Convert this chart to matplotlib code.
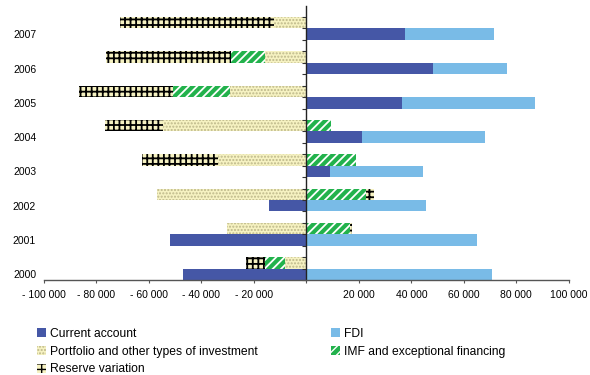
import matplotlib
matplotlib.use('Agg')
import matplotlib.pyplot as plt
from matplotlib.patches import Patch
import numpy as np

plt.rcParams['font.family'] = ['Liberation Sans', 'DejaVu Sans']
plt.rcParams['hatch.linewidth'] = 1.0

years = [2000, 2001, 2002, 2003, 2004, 2005, 2006, 2007]
current_account = [-46900, -51800, -14100, 9100, 21300, 36600, 48400, 37700]
fdi = [70900, 65100, 45700, 35500, 46900, 50600, 28200, 33900]
portfolio = [-8000, -30100, -56800, -33600, -54700, -29200, -15900, -12400]
imf = [-7900, 16500, 22600, 19000, 9500, -21600, -12700, 0]
reserve = [-7300, 900, 3200, -29100, -21900, -35700, -47600, -58800]
xticks = [-100000, -80000, -60000, -40000, -20000, 0, 20000, 40000, 60000, 80000, 100000]

c_ca = '#4557A6'
c_fdi = '#79BBE7'
c_yel = '#F6F2C2'
c_green = '#22B24C'

fig = plt.figure(figsize=(5.9, 3.75), dpi=100)
ax = fig.add_axes([0.0746, 0.2533, 0.8894, 0.7317])

y = np.arange(len(years))
h = 1 / 3

st_ca = dict(color=c_ca, linewidth=0)
st_fdi = dict(color=c_fdi, linewidth=0)
st_port = dict(facecolor=c_yel, edgecolor='#BDB88A', hatch='.....', linewidth=0)
st_imf = dict(facecolor=c_green, edgecolor='white', hatch='////', linewidth=0)
st_res = dict(facecolor=c_yel, edgecolor='black', hatch='+++', linewidth=0)
hatch_lw = {'+++': 1.3, '////': 1.3}


def set_hlw(p, st):
    lw = hatch_lw.get(st.get('hatch'))
    if lw is not None:
        try:
            p.set_hatch_linewidth(lw)
        except AttributeError:
            pass


def stack(ax, series, ypos, styles):
    pos = np.zeros(len(ypos))
    neg = np.zeros(len(ypos))
    for vals, st in zip(series, styles):
        vals = np.array(vals, dtype=float)
        left = np.where(vals >= 0, pos, neg)
        bars = ax.barh(ypos, vals, left=left, height=h, align='edge', **st)
        for b in bars:
            set_hlw(b, st)
        pos += np.where(vals >= 0, vals, 0)
        neg += np.where(vals < 0, vals, 0)


stack(ax, [current_account, fdi], y, [st_ca, st_fdi])
stack(ax, [portfolio, imf, reserve], y + h, [st_port, st_imf, st_res])

ax.set_xlim(-100000, 100000)
ax.set_ylim(0, len(years))

for s in ['top', 'right']:
    ax.spines[s].set_visible(False)
ax.spines['left'].set_position(('data', 0))
ax.spines['left'].set_color('#222222')
ax.spines['left'].set_linewidth(1.0)
ax.spines['bottom'].set_color('#555555')
ax.spines['bottom'].set_linewidth(1.0)

ax.set_yticks(np.arange(0, len(years) - 1 + 2 * h + 0.01, h))
ax.set_yticklabels([])
ax.tick_params(axis='y', direction='out', length=3, color='#333333')

labels = []
for v in xticks:
    if v < 0:
        labels.append('- ' + f'{-v:,}'.replace(',', ' '))
    elif v == 0:
        labels.append('')
    else:
        labels.append(f'{v:,}'.replace(',', ' '))
ax.set_xticks(xticks)
ax.set_xticklabels(labels, fontsize=7.5)
ax.tick_params(axis='x', direction='out', length=2.5, color='#555555', pad=4.5)

trans = ax.get_yaxis_transform()
for i, yr in enumerate(years):
    ax.text(-0.015, i + h / 2 - 0.03, str(yr), transform=trans, ha='right', va='center', fontsize=7.5)

left_handles = [Patch(**st_ca), Patch(**st_port), Patch(**st_res)]
left_labels = ['Current account', 'Portfolio and other types of investment', 'Reserve variation']
right_handles = [Patch(**st_fdi), Patch(**st_imf)]
right_labels = ['FDI', 'IMF and exceptional financing']
for p, st in zip(left_handles + right_handles, [st_ca, st_port, st_res, st_fdi, st_imf]):
    set_hlw(p, st)

kw = dict(frameon=False, fontsize=8.7, handlelength=0.75, handleheight=0.75,
          handletextpad=0.3, labelspacing=0.48, borderpad=0, borderaxespad=0)
fig.legend(left_handles, left_labels, loc='upper left', bbox_to_anchor=(0.063, 0.126), **kw)
fig.legend(right_handles, right_labels, loc='upper left', bbox_to_anchor=(0.561, 0.126), **kw)

fig.savefig('out.png', dpi=100)
